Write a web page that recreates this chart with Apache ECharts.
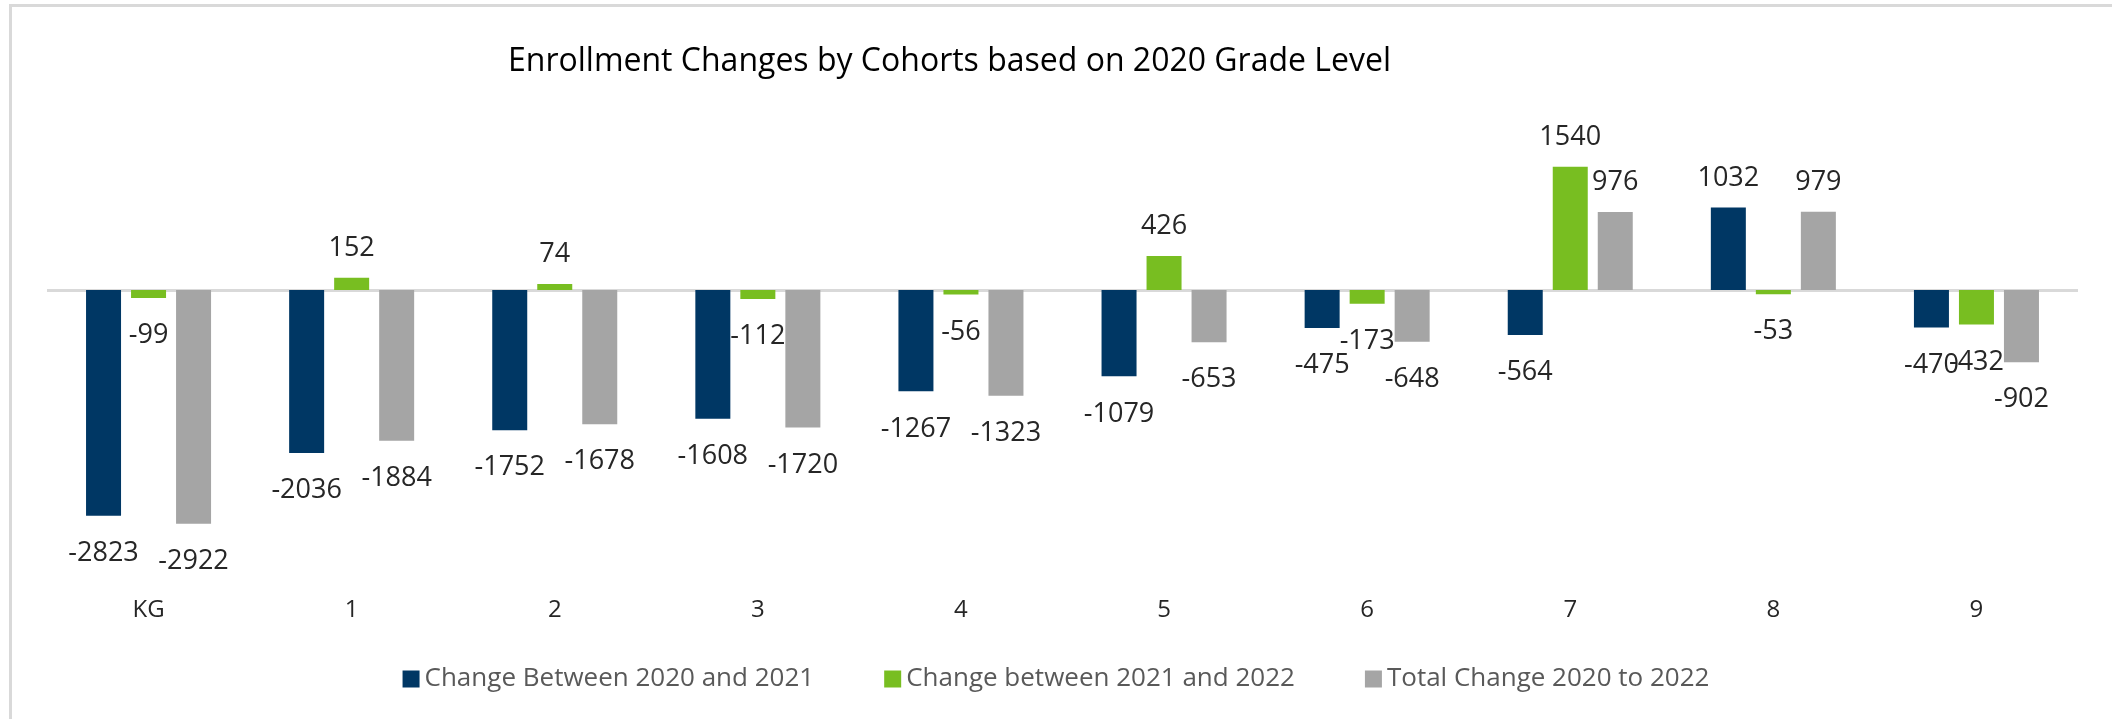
<!DOCTYPE html>
<html>
<head>
<meta charset="utf-8">
<title>Enrollment Changes by Cohorts</title>
<script src="https://cdn.jsdelivr.net/npm/echarts@6/dist/echarts.min.js"></script>
<style>
  html, body { margin: 0; padding: 0; background: #fff; }
  #wrap { position: relative; width: 2112px; height: 719px; overflow: hidden; }
  #chart { width: 2112px; height: 719px; }
  /* chart area frame (only top and left edges are visible) */
  #frame {
    position: absolute; left: 9px; top: 4px; width: 2300px; height: 900px;
    border-top: 3px solid #d9d9d9; border-left: 3px solid #d9d9d9;
    pointer-events: none;
  }
</style>
</head>
<body>
<div id="wrap">
  <div id="chart"></div>
  <div id="frame"></div>
</div>
<script>
// grade levels (2020)
const grades = ['KG', '1', '2', '3', '4', '5', '6', '7', '8', '9']

const change2020to2021 = [-2823, -2036, -1752, -1608, -1267, -1079, -475, -564, 1032, -470]
const change2021to2022 = [-99, 152, 74, -112, -56, 426, -173, 1540, -53, -432]
const total2020to2022 = [-2922, -1884, -1678, -1720, -1323, -653, -648, 976, 979, -902]

const seriesNames = [
  'Change Between 2020 and 2021',
  'Change between 2021 and 2022',
  'Total Change 2020 to 2022'
]
const colors = ['#003764', '#78BE21', '#A5A5A5']

const font = '"Open Sans", "DejaVu Sans", sans-serif'

// labels go outside the end of each bar (below for negatives)
const withLabels = arr => arr.map(v => ({
  value: v,
  label: v < 0
    ? { position: 'bottom', distance: 24 }
    : { position: 'top', distance: 16 }
}))

const myChart = echarts.init(document.getElementById('chart'))

const makeSeries = (name, data, i) => ({
  name: name,
  type: 'bar',
  barWidth: 35,
  barGap: '28.6%',
  itemStyle: { color: colors[i] },
  label: {
    show: true,
    color: '#262626',
    fontSize: 27,
    fontFamily: font
  },
  data: withLabels(data)
})

const series = [
  makeSeries(seriesNames[0], change2020to2021, 0),
  makeSeries(seriesNames[1], change2021to2022, 1),
  makeSeries(seriesNames[2], total2020to2022, 2)
]

// zero line
series[0].markLine = {
  silent: true,
  symbol: 'none',
  label: { show: false },
  lineStyle: { color: '#d9d9d9', width: 3, type: 'solid' },
  data: [{ yAxis: 0 }],
  z: 1
}

const option = {
  animation: false,
  title: {
    text: 'Enrollment Changes by Cohorts based on 2020 Grade Level',
    left: 503,
    top: 41,
    textStyle: {
      color: '#000',
      fontSize: 32,
      fontWeight: 'normal',
      fontFamily: font
    }
  },
  legend: {
    data: seriesNames,
    left: 'center',
    top: 661,
    itemWidth: 17,
    itemHeight: 17,
    itemGap: 70,
    icon: 'rect',
    textStyle: {
      color: '#595959',
      fontSize: 26,
      fontFamily: font
    }
  },
  grid: {
    left: 47,
    right: 34,
    top: 130,
    bottom: 129
  },
  xAxis: {
    type: 'category',
    data: grades,
    axisLine: { show: false, onZero: false },
    axisTick: { show: false },
    axisLabel: {
      margin: 8,
      color: '#262626',
      fontSize: 24,
      fontFamily: font
    }
  },
  yAxis: {
    type: 'value',
    min: -3750,
    max: 2000,
    show: false,
    splitLine: { show: false }
  },
  series: series
}

myChart.setOption(option)

window.onresize = () => {
  myChart.resize()
}
</script>
</body>
</html>
